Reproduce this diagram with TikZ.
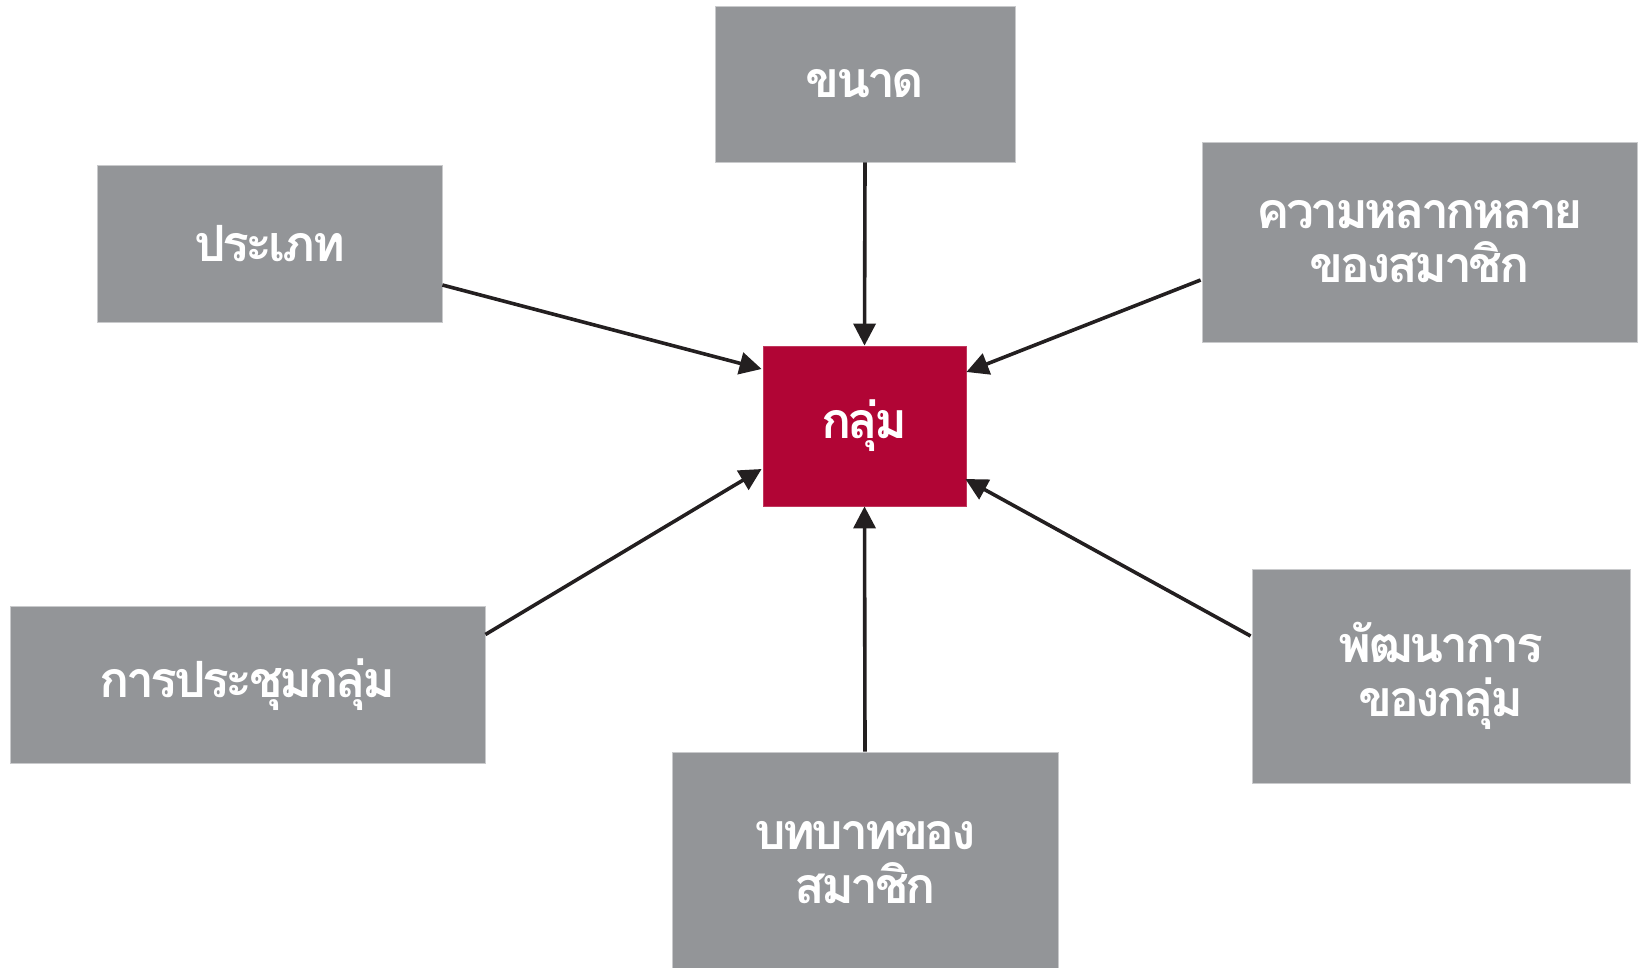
\documentclass[tikz,border=0pt]{standalone}
\usepackage{fontspec}
\usetikzlibrary{arrows.meta,calc}
\newfontfamily\thaifont[Script=Thai,LetterSpace=-7]{Loma}
\definecolor{boxgray}{HTML}{939598}
\definecolor{boxedge}{HTML}{C9CACC}
\definecolor{groupred}{HTML}{B10535}
\definecolor{arrowink}{HTML}{231F20}
\begin{document}
\begin{tikzpicture}[x=0.5pt,y=-0.5pt,
  factor/.style={fill=boxgray,draw=boxedge,line width=0.4pt,inner sep=0pt,
    text=white,align=center,font=\thaifont\bfseries\fontsize{25}{27}\selectfont},
  core/.style={factor,fill=groupred,draw=groupred!80!white},
  arr/.style={draw=arrowink,line width=1.8pt,-{Triangle[length=11pt,width=11pt]}}]
\useasboundingbox (0,0) rectangle (1642,968);
% central node
\node[core,minimum width=101.5pt,minimum height=80pt] (c) at (864.5,426) {กลุ่ม};
% surrounding factors
\node[factor,minimum width=150pt,minimum height=78pt] (size) at (865,84) {ขนาด};
\node[factor,minimum width=172.5pt,minimum height=78.5pt] (kind) at (269.5,243.5) {ประเภท};
\node[factor,minimum width=217.5pt,minimum height=100pt] (div) at (1419.5,242) {ความหลากหลาย\\ของสมาชิก};
\node[factor,minimum width=237.5pt,minimum height=78.5pt] (meet) at (247.5,684.5) {การประชุมกลุ่ม};
\node[factor,minimum width=193pt,minimum height=111pt] (role) at (865,863) {บทบาทของ\\สมาชิก};
\node[factor,minimum width=189pt,minimum height=107pt] (dev) at (1441,676) {พัฒนาการ\\ของกลุ่ม};
% connectors into the centre
\draw[arr] (size.south) -- (c.north);
\draw[arr] ($(kind.east)+(0,41.5)$) -- ($(c.west)+(-1,-57)$);
\draw[arr] ($(div.west)+(-1,38)$) -- ($(c.east)+(0,-54)$);
\draw[arr] ($(meet.east)+(0,-50)$) -- ($(c.west)+(-1,43)$);
\draw[arr] (role.north) -- (c.south);
\draw[arr] ($(dev.west)+(-1,-40)$) -- ($(c.east)+(-1,53)$);
\end{tikzpicture}
\end{document}
